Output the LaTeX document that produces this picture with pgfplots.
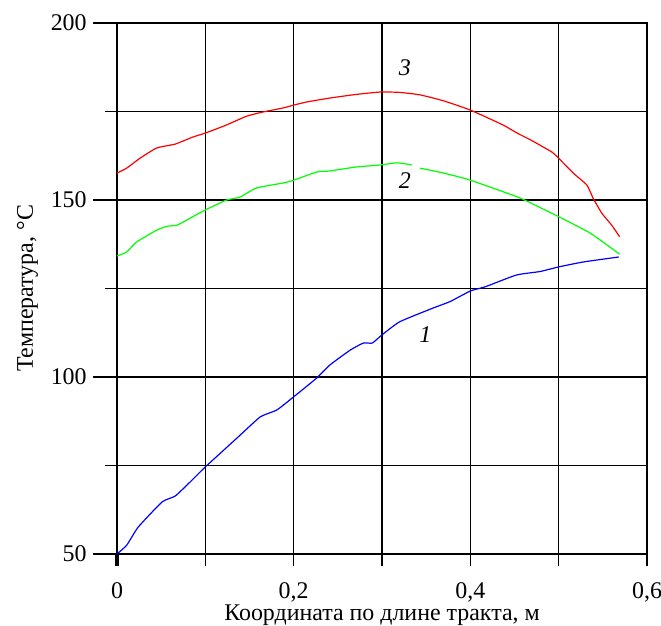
\documentclass[border=0pt,12pt]{standalone}
\usepackage{fontspec}
\setmainfont{Liberation Serif}
\usepackage{pgfplots}
\pgfplotsset{compat=1.18}

\begin{document}
\begin{tikzpicture}
\begin{axis}[
    name=ax,
    width=265bp, height=265.5bp, scale only axis,
    xmin=0, xmax=0.6, ymin=50, ymax=200,
    xtick={0,0.2,0.4,0.6}, minor xtick={0.1,0.3,0.5},
    ytick={50,100,150,200}, minor ytick={75,125,175},
    grid=both,
    major grid style={black, line width=0.8bp},
    minor grid style={black, line width=0.8bp},
    axis line style={black, line width=0.8bp},
    tick style={black, line width=0.8bp},
    tick align=outside,
    xtick pos=bottom, ytick pos=left,
    major tick length=6bp, minor tick length=6bp,
    ytick style={/pgfplots/major tick length=12bp},
    extra x ticks={0}, extra x tick labels={},
    extra x tick style={grid style={black, line width=2bp}, tick style={line width=2bp}},
    /pgf/number format/assume math mode=true,
    /pgf/number format/use comma,
    xticklabel style={yshift=-4bp},
    yticklabel style={xshift=-5bp},
    xlabel={Координата по длине тракта, м},
    ylabel={Температура, °С},
    xlabel style={at={([yshift=-33bp]rel axis cs:0.5,0)}, anchor=base},
    ylabel style={at={([xshift=-42bp]rel axis cs:0,0.5)}, anchor=base},
    every axis plot/.append style={line width=0.6bp, smooth, tension=0.3},
]
% curve 3
\addplot[red] coordinates {
(0,157.6) (0.011,159.0) (0.026,161.8) (0.045,164.7) (0.066,165.8) (0.086,167.8)
(0.1,168.9) (0.124,171.2) (0.147,173.7) (0.166,174.9) (0.188,176.0) (0.2,176.8)
(0.215,177.7) (0.241,178.8) (0.27,179.8) (0.298,180.5) (0.32,180.4) (0.343,179.7)
(0.37,178.0) (0.4,175.4) (0.437,171.2) (0.453,168.9) (0.468,167.0) (0.492,163.6)
(0.5,161.8) (0.517,157.5) (0.532,154.2) (0.539,150.5) (0.549,146.2) (0.56,142.9)
(0.569,139.6)
};
% curve 2 (broken under its label)
\addplot[green] coordinates {
(0,134.2) (0.011,135.3) (0.022,138.1) (0.045,141.5) (0.057,142.6) (0.068,142.9)
(0.083,144.9) (0.1,147.2) (0.124,150.0) (0.139,150.8) (0.158,153.4) (0.188,154.8)
(0.2,155.6) (0.226,157.9) (0.241,158.2) (0.27,159.3) (0.298,159.9) (0.317,160.5)
(0.334,159.9)
};
\addplot[green] coordinates {
(0.343,159.0) (0.37,157.6) (0.4,155.6) (0.453,150.9) (0.468,149.2) (0.5,145.3)
(0.536,140.6) (0.569,134.7)
};
% curve 1
\addplot[blue] coordinates {
(0,50) (0.011,52.5) (0.024,57.6) (0.051,64.7) (0.066,66.4) (0.083,70.4)
(0.1,74.6) (0.136,82.8) (0.162,88.7) (0.181,90.7) (0.2,94.4) (0.226,99.7)
(0.241,103.4) (0.264,107.6) (0.279,109.6) (0.289,109.6) (0.3,111.9) (0.32,115.6)
(0.358,119.5) (0.377,121.3) (0.4,124.3) (0.417,125.5) (0.452,128.8) (0.479,129.8)
(0.5,131.1) (0.528,132.5) (0.568,133.9)
};
\node[font=\itshape] at (axis cs:0.326,187.3) {3};
\node[font=\itshape] at (axis cs:0.326,155.6) {2};
\node[font=\itshape] at (axis cs:0.349,111.9) {1};
\end{axis}
\pgfresetboundingbox
\path[use as bounding box] ([shift={(-58.5bp,-35.5bp)}]ax.south west) rectangle ([shift={(7bp,11.5bp)}]ax.north east);
\end{tikzpicture}
\end{document}
